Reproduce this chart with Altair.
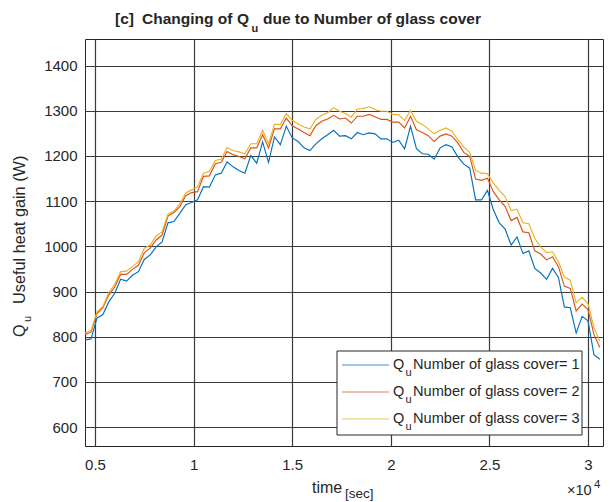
import altair as alt
import pandas as pd

# Sampling grid: one reading every 300 s
time_sec = list(range(4500, 30601, 300))

# Useful heat gain Q_u (W) for 1, 2 and 3 glass covers
q_cover_1 = [793, 795, 841, 849, 877, 896, 927, 923, 936, 944,
             971, 981, 999, 1010, 1052, 1055, 1073, 1092, 1097, 1103,
             1132, 1131, 1158, 1162, 1187, 1176, 1168, 1162, 1201, 1184,
             1231, 1186, 1242, 1225, 1266, 1240, 1232, 1218, 1212, 1227,
             1238, 1247, 1257, 1244, 1245, 1238, 1252, 1247, 1251, 1249,
             1238, 1238, 1230, 1235, 1216, 1266, 1216, 1205, 1204, 1193,
             1218, 1225, 1220, 1198, 1182, 1173, 1103, 1103, 1124, 1081,
             1052, 1038, 1003, 1021, 984, 990, 951, 941, 927, 951,
             931, 866, 864, 808, 845, 835, 760, 750]
q_cover_2 = [805, 810, 851, 864, 892, 910, 938, 938, 949, 958,
             986, 996, 1014, 1025, 1067, 1075, 1088, 1112, 1119, 1121,
             1155, 1156, 1183, 1186, 1210, 1203, 1199, 1194, 1218, 1218,
             1247, 1218, 1260, 1260, 1284, 1267, 1260, 1252, 1245, 1267,
             1277, 1282, 1290, 1282, 1284, 1273, 1288, 1288, 1292, 1287,
             1281, 1281, 1275, 1275, 1262, 1288, 1258, 1252, 1245, 1232,
             1244, 1249, 1244, 1229, 1208, 1199, 1149, 1146, 1151, 1121,
             1103, 1088, 1057, 1064, 1032, 1030, 990, 983, 970, 977,
             955, 912, 907, 857, 872, 860, 805, 776]
q_cover_3 = [808, 814, 855, 867, 898, 916, 944, 945, 955, 966,
             996, 1003, 1023, 1032, 1071, 1078, 1094, 1118, 1125, 1132,
             1162, 1166, 1190, 1193, 1219, 1212, 1209, 1205, 1227, 1227,
             1257, 1227, 1270, 1270, 1294, 1279, 1271, 1264, 1260, 1281,
             1290, 1296, 1307, 1299, 1294, 1286, 1304, 1305, 1309, 1303,
             1299, 1299, 1292, 1291, 1279, 1301, 1277, 1270, 1260, 1249,
             1257, 1262, 1255, 1236, 1220, 1208, 1168, 1162, 1161, 1140,
             1124, 1110, 1079, 1082, 1052, 1050, 1018, 999, 986, 988,
             966, 932, 925, 875, 887, 873, 820, 790]

covers = ["1", "2", "3"]
cover_colors = ["#0072BD", "#D95319", "#EDB120"]
x_ticks = [5000, 10000, 15000, 20000, 25000, 30000]
y_ticks = [600, 700, 800, 900, 1000, 1100, 1200, 1300, 1400]
x_domain = [4493, 30760]
y_domain = [558, 1459]

W, H = 518, 407
LEFT, TOP = 85, 39
FONT = "Liberation Sans"
INK = "#262626"

rows = []
for name, vals in zip(covers, [q_cover_1, q_cover_2, q_cover_3]):
    for t, q in zip(time_sec, vals):
        rows.append({"time": t, "Qu": q, "cover": name})
df = pd.DataFrame(rows)

lines = alt.Chart(df).mark_line(strokeWidth=1.15, clip=True).encode(
    x=alt.X("time:Q",
            scale=alt.Scale(domain=x_domain, nice=False, zero=False),
            axis=alt.Axis(values=x_ticks, title=None,
                          labelExpr="'' + (datum.value / 10000)")),
    y=alt.Y("Qu:Q",
            scale=alt.Scale(domain=y_domain, nice=False, zero=False),
            axis=alt.Axis(values=y_ticks, title=None, format="d")),
    color=alt.Color("cover:N", scale=alt.Scale(domain=covers, range=cover_colors),
                    legend=None),
)

one = pd.DataFrame({"k": [0]})


def label(text, x, y, size=15, angle=0, align="left", weight="normal", color=INK):
    return alt.Chart(one).mark_text(
        text=text, font=FONT, fontSize=size, angle=angle, align=align,
        baseline="alphabetic", fontWeight=weight, color=color,
    ).encode(x=alt.value(x - LEFT), y=alt.value(y - TOP))


# Title with subscripted Q_u, placed word group by word group
title_parts = [
    label("[c]", 115, 24, 15.5, weight="bold"),
    label("Changing of", 142, 24, 15.5, weight="bold"),
    label("Q", 237, 24, 15.5, weight="bold"),
    label("u", 251.5, 31.5, 11, weight="bold"),
    label("due to Number of glass cover", 263, 24, 15.5, weight="bold"),
]

# Axis titles
ylab = [
    label("Q", 25, 337, 16, angle=270),
    label("u", 30.5, 322, 11, angle=270),
    label("Useful heat gain (W)", 25, 304, 16.3, angle=270),
]
xlab = [
    label("time", 312, 493, 16),
    label("[sec]", 345, 498, 13.5),
    label("\u00d710", 567, 495, 14.5),
    label("4", 594, 488, 11.5),
]

# Legend box with sample lines
legend_box = alt.Chart(one).mark_rect(fill="white", stroke=INK, strokeWidth=1).encode(
    x=alt.value(337 - LEFT), x2=alt.value(582 - LEFT),
    y=alt.value(351 - TOP), y2=alt.value(435 - TOP),
)
legend_items = []
for i, (name, col) in enumerate(zip(covers, cover_colors)):
    cy = 365 + 27 * i
    by = 368.5 + 27 * i
    legend_items.append(
        alt.Chart(one).mark_rule(color=col, strokeWidth=1.2, opacity=0.75).encode(
            x=alt.value(342 - LEFT), x2=alt.value(389 - LEFT), y=alt.value(cy - TOP)))
    legend_items.append(label("Q", 393, by, 14.5))
    legend_items.append(label("u", 405.5, by + 7, 11))
    legend_items.append(label("Number of glass cover= " + name, 413, by, 14.6))

chart = alt.layer(
    lines, legend_box, *legend_items, *title_parts, *ylab, *xlab
).properties(
    width=W, height=H,
    autosize=alt.AutoSizeParams(type="none"),
    padding={"left": LEFT, "top": TOP, "right": 612 - LEFT - W, "bottom": 502 - TOP - H},
    background="white",
).configure_view(
    stroke=INK, strokeWidth=1,
).configure_axis(
    grid=True, gridColor="#3a3a3a", gridWidth=1.2, gridOpacity=1,
    domain=False, ticks=False,
    labelFont=FONT, labelFontSize=15, labelColor=INK,
).configure_axisX(
    labelPadding=11,
).configure_axisY(
    labelPadding=8,
)

chart.save("out.html", embed_options={"renderer": "svg", "actions": False})
